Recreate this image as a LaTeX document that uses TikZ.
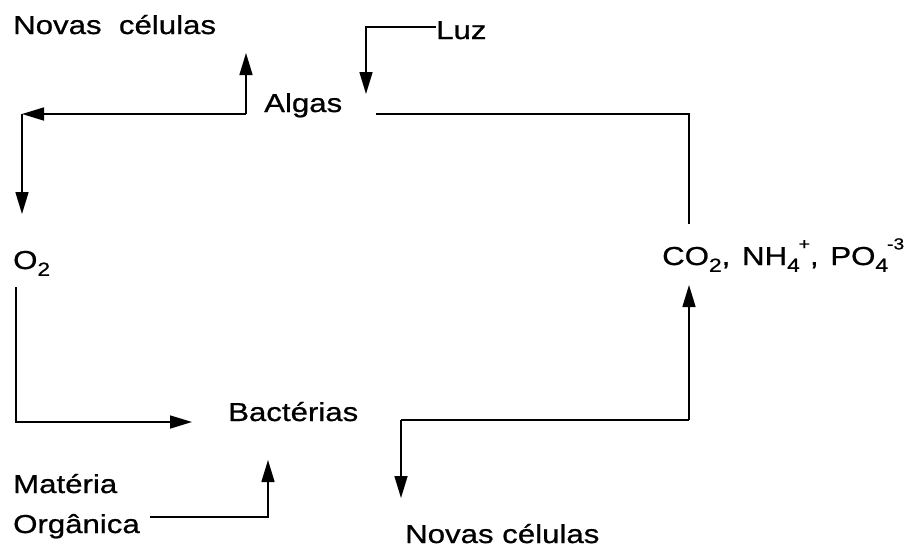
\documentclass[tikz,border=0pt]{standalone}
\usepackage{fontspec}
\setmainfont{Liberation Sans}[FakeStretch=1.2,FakeBold=0.8]
\usetikzlibrary{arrows.meta}
\tikzset{
  lbl/.style={anchor=base west, inner sep=0pt, font=\fontsize{26}{30}\selectfont},
  ln/.style={line width=1.6pt, black},
  arr/.style={ln, -{Triangle[width=13pt,length=22pt]}}
}
\newcommand{\sbs}[1]{\raisebox{-0.26em}{\fontsize{19}{19}\selectfont #1}}
\newcommand{\sps}[1]{\raisebox{0.6em}{\fontsize{16}{16}\selectfont #1}}
\begin{document}
\begin{tikzpicture}[x=1pt,y=-1pt]
\useasboundingbox (0,0) rectangle (914,550);
% texts
\node[lbl] (novas1) at (13,34) {Novas\ \ células};
\node[lbl] (luz) at (436,39) {Luz};
\node[lbl] (algas) at (264,112) {Algas};
\node[lbl] (o2) at (13,269) {O\sbs{2}};
\node[lbl] (nut) at (662,265) {CO\sbs{2},\hspace{0.45em}NH\sbs{4}\kern-1pt\sps{+},\hspace{0.45em}PO\sbs{4}\kern-1pt\sps{-3}};
\node[lbl] (bact) at (228,421) {Bactérias};
\node[lbl] (mat) at (13,493) {Matéria};
\node[lbl] (org) at (13,533) {Orgânica};
\node[lbl] (novas2) at (405,543) {Novas células};
% junction coordinates
\coordinate (luzc) at (366,27);
\coordinate (luzt) at (366,94);
\coordinate (aL) at (246,114);
\coordinate (aUp) at (246,53);
\coordinate (aC) at (22,114);
\coordinate (aDn) at (22,214);
\coordinate (aR) at (376,114);
\coordinate (aRc) at (689,114);
\coordinate (aRe) at (689,224);
\coordinate (oS) at (16,287);
\coordinate (oC) at (16,422);
\coordinate (bIn) at (192,422);
\coordinate (mS) at (150,517);
\coordinate (mC) at (268,517);
\coordinate (mT) at (268,460);
\coordinate (bR) at (401,420);
\coordinate (bRc) at (689,420);
\coordinate (nT) at (689,285);
\coordinate (bD) at (401,498);
% connectors
\draw[arr] (luz.west |- luzc) -- (luzc) -- (luzt);
\draw[arr] (aL) -- (aUp);
\draw[arr] (aL) -- (aC);
\draw[arr] (aC) -- (aDn);
\draw[ln] (aR) -- (aRc) -- (aRe);
\draw[arr] (oS) -- (oC) -- (bIn);
\draw[arr] (mS) -- (mC) -- (mT);
\draw[arr] (bRc) -- (nT);
\draw[ln] (bR) -- (bRc);
\draw[arr] (bR) -- (bD);
\end{tikzpicture}
\end{document}
